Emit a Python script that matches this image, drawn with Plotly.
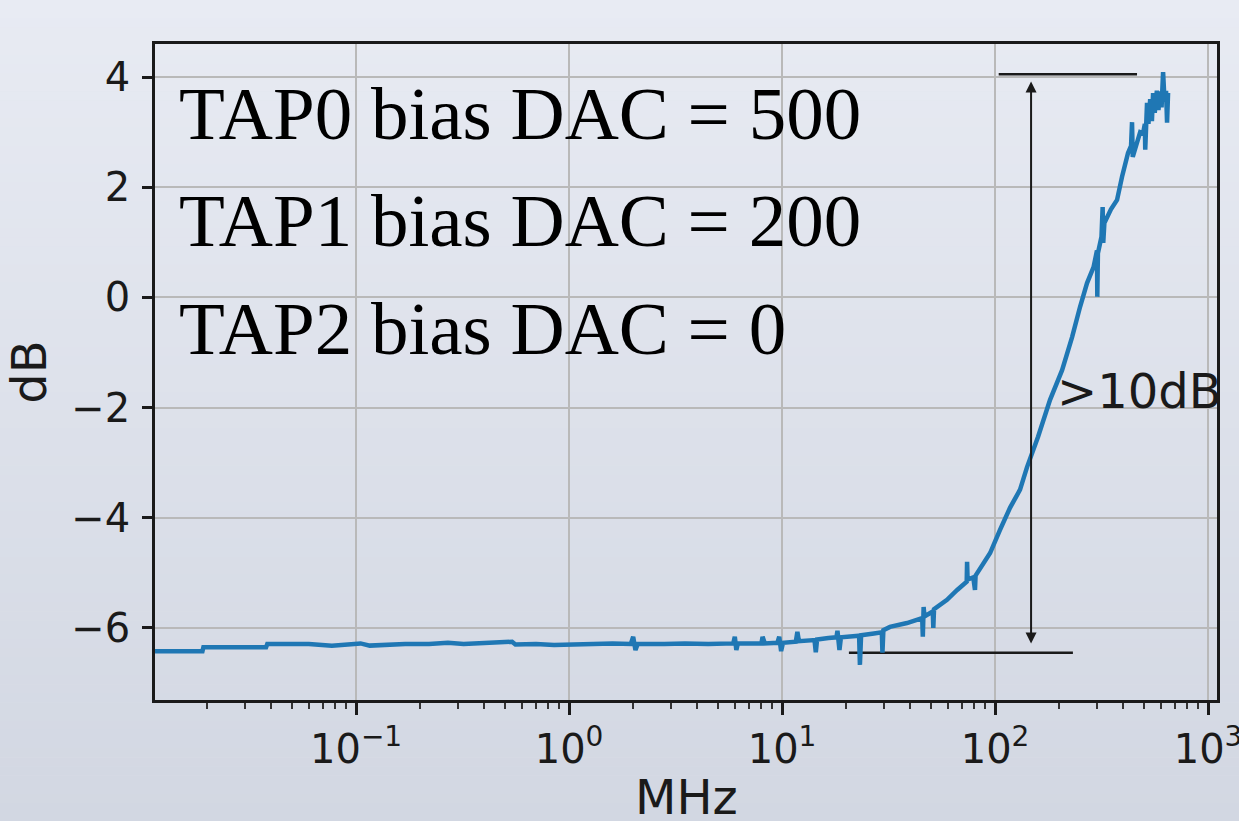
import math
import plotly.graph_objects as go

# ---------------- data ----------------
freq_mhz = [
    0.01138, 0.0190, 0.0192, 0.0378, 0.0383, 0.060, 0.077, 0.095, 0.105, 0.116,
    0.135, 0.17, 0.22, 0.27, 0.32, 0.40, 0.54, 0.56, 0.70, 0.85,
    1.0, 1.3, 1.6, 1.95, 2.0, 2.05, 2.1, 2.8, 3.5, 4.5,
    5.9, 6.0, 6.1, 6.2, 8.0, 8.1, 8.3, 9.5, 9.7, 9.9,
    10.1, 11.6, 11.8, 12.0, 13.5, 14.2, 14.4, 14.6, 16.5, 18.0,
    18.2, 18.6, 18.9, 20.5, 23.0, 23.2, 23.5, 27.0, 29.4, 29.6,
    29.9, 32.1, 38.6, 45.5, 45.8, 46.2, 46.6, 51.0, 51.3, 51.7,
    59.5, 66.4, 73.6, 73.9, 74.3, 79.0, 80.5, 81.0, 94.8, 105.5,
    117.5, 131.0, 141.3, 159.2, 181.2, 206.4, 230.0, 250.7, 270.3, 290.0,
    301.0, 302.0, 304.0, 316.0, 320.0, 322.0, 326.0, 350.0, 373.9, 394.6,
    421.0, 435.0, 439.6, 443.0, 460.0, 480.0, 495.5, 505.0, 507.0, 510.0,
    517.0, 525.0, 535.0, 545.0, 552.0, 562.0, 575.0, 585.0, 595.0, 605.0,
    615.0, 625.0, 635.0, 642.0, 645.0, 649.0,
]
gain_db = [
    -6.42, -6.42, -6.35, -6.35, -6.29, -6.29, -6.32, -6.30, -6.28, -6.32,
    -6.30, -6.29, -6.29, -6.27, -6.29, -6.28, -6.25, -6.30, -6.29, -6.31,
    -6.30, -6.29, -6.28, -6.29, -6.16, -6.40, -6.29, -6.29, -6.28, -6.29,
    -6.28, -6.16, -6.40, -6.28, -6.28, -6.16, -6.28, -6.27, -6.16, -6.42,
    -6.27, -6.25, -6.07, -6.24, -6.22, -6.22, -6.44, -6.21, -6.18, -6.17,
    -6.05, -6.40, -6.17, -6.15, -6.14, -6.67, -6.13, -6.10, -6.08, -6.45,
    -6.04, -5.98, -5.91, -5.82, -6.16, -5.62, -5.79, -5.70, -6.00, -5.66,
    -5.49, -5.31, -5.16, -4.80, -5.12, -5.08, -5.31, -5.05, -4.64, -4.22,
    -3.82, -3.49, -3.08, -2.53, -1.86, -1.32, -0.72, -0.17, 0.26, 0.55,
    0.85, 0.01, 0.80, 1.10, 1.64, 0.99, 1.35, 1.60, 1.77, 2.19,
    2.62, 2.75, 3.18, 2.55, 2.80, 3.00, 2.98, 3.15, 2.68, 3.25,
    3.53, 3.15, 3.60, 3.20, 3.71, 3.35, 3.75, 3.40, 3.74, 3.45,
    4.09, 3.55, 3.75, 3.17, 3.70, 3.71,
]

x_tick_vals = [0.1, 1, 10, 100, 1000]
x_tick_text = ["10<sup>−1</sup>", "10<sup>0</sup>", "10<sup>1</sup>",
               "10<sup>2</sup>", "10<sup>3</sup>"]
y_tick_vals = [-6, -4, -2, 0, 2, 4]
x_title = "MHz"
y_title = "dB"

bias_labels = ["TAP0 bias DAC = 500", "TAP1 bias DAC = 200", "TAP2 bias DAC = 0"]

# ">10dB" span marker
span_top_db = 4.05
span_top_mhz = [104.0, 464.0]
span_bottom_db = -6.45
span_bottom_mhz = [20.6, 232.0]
arrow_mhz = 147.6
arrow_db = [3.92, -6.31]
span_label = ">10dB"
span_label_mhz = 191.0
span_label_db = -1.70

# ---------------- styling ----------------
LINE_BLUE = "#1f77b4"
INK = "#1a1a1a"
GRID = "#b9b9b9"
SANS = "DejaVu Sans"
SERIF = "Liberation Serif"

W, H = 1239, 821
ML, MR, MT, MB = 155, 22, 44, 121
plot_w = W - ML - MR
plot_h = H - MT - MB

fig = go.Figure()

# span reference lines
fig.add_trace(go.Scatter(x=span_top_mhz, y=[span_top_db] * 2, mode="lines",
                         line=dict(color=INK, width=2.5), hoverinfo="skip",
                         showlegend=False, cliponaxis=False))
fig.add_trace(go.Scatter(x=span_bottom_mhz, y=[span_bottom_db] * 2, mode="lines",
                         line=dict(color=INK, width=2.5), hoverinfo="skip",
                         showlegend=False, cliponaxis=False))

# measured response
fig.add_trace(go.Scatter(x=freq_mhz, y=gain_db, mode="lines",
                         line=dict(color=LINE_BLUE, width=4.5),
                         showlegend=False, name="response"))

# background vertical gradient (paper-referenced strips)
top_rgb = (232, 235, 243)
bot_rgb = (210, 215, 226)
n_strips = 90
fig_top = (plot_h + MT) / plot_h
fig_bot = -MB / plot_h
shapes = []
for i in range(n_strips):
    t = (i + 0.5) / n_strips
    c = tuple(round(top_rgb[k] + (bot_rgb[k] - top_rgb[k]) * t) for k in range(3))
    y1 = fig_top - (fig_top - fig_bot) * i / n_strips
    y0 = fig_top - (fig_top - fig_bot) * (i + 1.05) / n_strips
    shapes.append(dict(type="rect", xref="paper", yref="paper",
                       x0=-0.2, x1=1.1, y0=y0, y1=y1,
                       fillcolor="rgb(%d,%d,%d)" % c, line=dict(width=0),
                       layer="below"))

annotations = []
# TAP bias text block
tap_center_px = [113, 221, 328]
for label, cy in zip(bias_labels, tap_center_px):
    annotations.append(dict(
        text=label, xref="paper", yref="paper",
        x=(177 - ML) / plot_w, y=(H - MB - cy) / plot_h,
        xanchor="left", yanchor="middle", showarrow=False,
        font=dict(family=SERIF, size=75, color="#000000")))

# double-headed arrow
ax_log = math.log10(arrow_mhz)
annotations.append(dict(
    text="", xref="x", yref="y", axref="x", ayref="y",
    x=ax_log, y=arrow_db[0], ax=ax_log, ay=arrow_db[1],
    showarrow=True, arrowside="end+start", arrowhead=2, startarrowhead=2,
    arrowsize=1.1, startarrowsize=1.1, arrowwidth=2, arrowcolor=INK,
    standoff=0, startstandoff=0))

# span label
annotations.append(dict(
    text=span_label, xref="x", yref="y",
    x=math.log10(span_label_mhz), y=span_label_db,
    xanchor="left", yanchor="middle", showarrow=False,
    font=dict(family=SANS, size=48, color=INK)))

# x-axis title (placed low, as in the reference)
annotations.append(dict(
    text=x_title, xref="paper", yref="paper",
    x=0.5, y=(H - MB - 797) / plot_h,
    xanchor="center", yanchor="middle", showarrow=False,
    font=dict(family=SANS, size=48, color=INK)))

minor_vals = [m * 10 ** d for d in range(-2, 3) for m in range(2, 10)]

fig.update_layout(
    width=W, height=H, autosize=False,
    margin=dict(l=ML, r=MR, t=MT, b=MB, pad=0),
    paper_bgcolor="rgb(222,226,235)",
    plot_bgcolor="rgba(0,0,0,0)",
    shapes=shapes,
    annotations=annotations,
    showlegend=False,
    xaxis=dict(
        type="log", range=[-1.944, 3.042], automargin=False,
        tickmode="array", tickvals=x_tick_vals, ticktext=x_tick_text,
        ticks="outside", ticklen=12, tickwidth=2.5, tickcolor=INK,
        ticklabeloverflow="allow", ticklabelstandoff=0,
        showgrid=True, gridcolor=GRID, gridwidth=2,
        showline=True, linecolor=INK, linewidth=2.5, mirror=True,
        zeroline=False,
        tickfont=dict(family=SANS, size=40, color=INK),
        minor=dict(tickvals=minor_vals, ticks="outside", ticklen=6,
                   tickwidth=2, tickcolor="#333333", showgrid=False),
    ),
    yaxis=dict(
        range=[-7.307, 4.599], automargin=False,
        tickmode="array", tickvals=y_tick_vals,
        ticks="outside", ticklen=10, tickwidth=2.5, tickcolor=INK,
        ticklabelstandoff=4,
        showgrid=True, gridcolor=GRID, gridwidth=2,
        showline=True, linecolor=INK, linewidth=2.5, mirror=True,
        zeroline=False,
        tickfont=dict(family=SANS, size=40, color=INK),
        title=dict(text=y_title, font=dict(family=SANS, size=48, color=INK),
                   standoff=10),
    ),
)

fig.write_html("out.html")
